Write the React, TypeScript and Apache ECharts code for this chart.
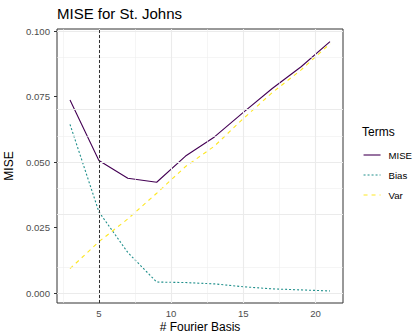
import React, { useEffect, useRef } from "react";
import * as echarts from "echarts";

const basis = [3, 5, 7, 9, 11, 13, 15, 17, 19, 21];
const miseVals = [0.0737, 0.0506, 0.0438, 0.0423, 0.0523, 0.0596, 0.069, 0.0781, 0.0864, 0.096];
const biasVals = [0.0644, 0.031, 0.0155, 0.0042, 0.004, 0.0035, 0.0024, 0.0016, 0.0012, 0.0008];
const varVals = [0.0093, 0.0196, 0.0283, 0.0381, 0.0483, 0.0561, 0.0666, 0.0765, 0.0852, 0.0952];
const xTicks = [5, 10, 15, 20];
const xMinor = [2.5, 7.5, 12.5, 17.5];
const yTicks = [0, 0.025, 0.05, 0.075, 0.1];
const yMinor = [0.0125, 0.0375, 0.0625, 0.0875];
const chosenBasis = 5;
const seriesNames = ["MISE", "Bias", "Var"];

const FONT = "Liberation Sans, Arial, sans-serif";

export default function App() {
  const ref = useRef<HTMLDivElement>(null);
  useEffect(() => {
    const chart = echarts.init(ref.current!, null, { renderer: "svg" });
    const pair = (vals: number[]) => basis.map((b, i) => [b, vals[i]]);
    const gridLine = (color: string, width: number) => ({
      silent: true,
      symbol: ["none", "none"],
      label: { show: false },
      emphasis: { disabled: true },
      lineStyle: { color, width, type: "solid" },
    });
    chart.setOption({
      animation: false,
      title: [
        {
          text: "MISE for St. Johns",
          left: 57,
          top: 6,
          padding: 0,
          textStyle: { fontFamily: FONT, fontSize: 15, fontWeight: "normal", color: "#000" },
        },
        {
          text: "Terms",
          left: 362,
          top: 126,
          padding: 0,
          textStyle: { fontFamily: FONT, fontSize: 12, fontWeight: "normal", color: "#000" },
        },
        {
          text: "# Fourier Basis",
          left: 200,
          top: 321,
          textAlign: "center",
          padding: 0,
          textStyle: { fontFamily: FONT, fontSize: 12, fontWeight: "normal", color: "#000", lineHeight: 12 },
        },
      ],
      legend: {
        data: seriesNames,
        orient: "vertical",
        left: 363,
        top: 148,
        padding: 0,
        itemWidth: 17,
        itemHeight: 14,
        itemGap: 6,
        itemStyle: { opacity: 0 },
        lineStyle: { width: 1.1 },
        textStyle: { fontFamily: FONT, fontSize: 9.6, color: "#000", padding: [0, 0, 0, 3], lineHeight: 14 },
        selectedMode: false,
      },
      grid: {
        left: 57,
        right: 71,
        top: 29,
        bottom: 31,
        show: true,
        borderColor: "#333333",
        borderWidth: 1,
        backgroundColor: "#fff",
        containLabel: false,
        outerBoundsMode: "none",
      },
      xAxis: {
        type: "value",
        min: 2.1,
        max: 21.9,
        axisLine: { show: false },
        splitLine: { show: false },
        axisTick: { show: true, length: 3, lineStyle: { color: "#333333" }, customValues: xTicks },
        axisLabel: {
          customValues: xTicks,
          margin: 5,
          fontFamily: FONT,
          fontSize: 9.6,
          color: "#4D4D4D",
        },
      },
      yAxis: {
        type: "value",
        min: -0.0038,
        max: 0.1008,
        name: "MISE",
        nameLocation: "middle",
        nameGap: 37,
        nameRotate: 90,
        nameTextStyle: { fontFamily: FONT, fontSize: 12, color: "#000" },
        axisLine: { show: false },
        splitLine: { show: false },
        axisTick: { show: true, length: 3, lineStyle: { color: "#333333" }, customValues: yTicks },
        axisLabel: {
          customValues: yTicks,
          margin: 7,
          fontFamily: FONT,
          fontSize: 9.6,
          color: "#4D4D4D",
          formatter: (v: number) => v.toFixed(3),
        },
      },
      series: [
        {
          name: "gridMinor",
          type: "line",
          data: [],
          z: 1,
          markLine: {
            ...gridLine("#EFEFEF", 0.6),
            data: [...xMinor.map((x) => ({ xAxis: x })), ...yMinor.map((y) => ({ yAxis: y }))],
          },
        },
        {
          name: "gridMajor",
          type: "line",
          data: [],
          z: 1,
          markLine: {
            ...gridLine("#EBEBEB", 1.1),
            data: [...xTicks.map((x) => ({ xAxis: x })), ...yTicks.map((y) => ({ yAxis: y }))],
          },
        },
        {
          name: "chosen",
          type: "line",
          data: [],
          z: 3,
          markLine: {
            silent: true,
            symbol: ["none", "none"],
            label: { show: false },
            lineStyle: { color: "#000", width: 0.8, type: [3, 2] },
            data: [{ xAxis: chosenBasis }],
          },
        },
        {
          name: "MISE",
          type: "line",
          data: pair(miseVals),
          showSymbol: false,
          symbol: "none",
          z: 4,
          color: "#440154",
          lineStyle: { color: "#440154", width: 1.1, type: "solid" },
        },
        {
          name: "Bias",
          type: "line",
          data: pair(biasVals),
          showSymbol: false,
          symbol: "none",
          z: 4,
          color: "#21908C",
          lineStyle: { color: "#21908C", width: 1.1, type: [2, 2] },
        },
        {
          name: "Var",
          type: "line",
          data: pair(varVals),
          showSymbol: false,
          symbol: "none",
          z: 4,
          color: "#FDE725",
          lineStyle: { color: "#FDE725", width: 1.1, type: [4, 4] },
        },
      ],
    });
    return () => chart.dispose();
  }, []);
  return <div ref={ref} style={{ width: 414, height: 334, position: "absolute", left: 0, top: 0 }} />;
}
